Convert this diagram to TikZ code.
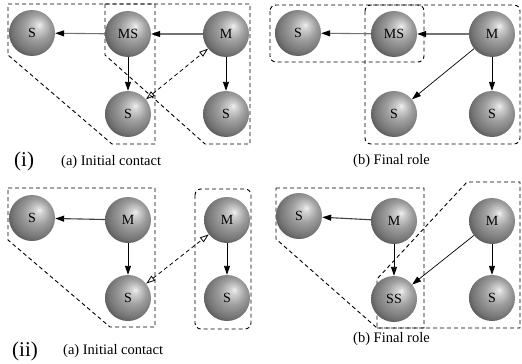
\documentclass[tikz,border=0pt]{standalone}
\usepackage{fontspec}
\setmainfont{Liberation Serif}
\usetikzlibrary{arrows.meta}
\definecolor{bA}{RGB}{240,240,240}
\definecolor{bB}{RGB}{210,210,210}
\definecolor{bC}{RGB}{158,158,158}
\definecolor{bD}{RGB}{118,118,118}
\definecolor{bE}{RGB}{70,70,70}
\pgfdeclareradialshading{refball}{\pgfpoint{8bp}{9bp}}{color(0bp)=(bA);color(4bp)=(bB);color(14bp)=(bC);color(25bp)=(bD);color(34bp)=(bE);color(50bp)=(bE)}
\begin{document}
\begin{tikzpicture}[x=1pt,y=-1pt,
 ball/.style={circle, minimum size=46pt, inner sep=0pt, shading=refball, font=\fontsize{14}{14}\selectfont},
 grp/.style={dash pattern=on 4pt off 3pt, line width=0.9pt, black},
 rgrp/.style={grp, rounded corners=6pt},
 garr/.style={-{Triangle[length=9pt,width=6pt,color=black]}, line width=1.1pt, black!55},
 barr/.style={-{Triangle[length=9pt,width=6pt]}, line width=0.9pt, black},
 darr/.style={{Triangle[open,length=9pt,width=6pt]}-{Triangle[open,length=9pt,width=6pt]}, dash pattern=on 4pt off 3pt, line width=0.8pt},
 lab/.style={font=\fontsize{14.5}{14.5}\selectfont, anchor=base west, inner sep=0pt},
 big/.style={font=\fontsize{21}{21}\selectfont, anchor=base west, inner sep=0pt}]
\useasboundingbox (0,0) rectangle (522,364);

% ---------- (i)(a) ----------
\draw[grp] (8,4) -- (155,4) -- (155,144) -- (112,144) -- (8,55) -- cycle;
\draw[grp] (105,4) -- (250,4) -- (250,144) -- (205,144) -- (105,55) -- cycle;
\node[ball] (a1) at (32,33) {S};
\node[ball] (a2) at (128,34) {MS};
\node[ball] (a3) at (226,34) {M};
\node[ball] (a4) at (128,114) {S};
\node[ball] (a5) at (226,114) {S};
\draw[garr] (a2) -- (a1);
\draw[garr] (a3) -- (a2);
\draw[barr] (a2) -- (a4);
\draw[barr] (a3) -- (a5);
\draw[darr] (a4) -- (a3);
\node[big] (li) at (14,166) {(i)};
\node[lab] (la) at (61,165) {(a) Initial contact};

% ---------- (i)(b) ----------
\draw[rgrp] (270,5) rectangle (424,62);
\draw[rgrp] (365,5) rectangle (520,144);
\node[ball] (b1) at (298,33) {S};
\node[ball] (b2) at (394,34) {MS};
\node[ball] (b3) at (492,34) {M};
\node[ball] (b4) at (394,114) {S};
\node[ball] (b5) at (492,114) {S};
\draw[garr] (b2) -- (b1);
\draw[garr] (b3) -- (b2);
\draw[barr, line width=0.7pt] (b3) -- (b4);
\draw[barr] (b3) -- (b5);
\node[lab] (lb) at (353,164) {(b) Final role};

% ---------- (ii)(a) ----------
\draw[grp] (8,188) -- (155,188) -- (155,327) -- (110,327) -- (8,240) -- cycle;
\draw[rgrp] (195,189) rectangle (251,329);
\node[ball] (c1) at (32,218) {S};
\node[ball] (c2) at (128,220) {M};
\node[ball] (c3) at (128,298) {S};
\node[ball] (c4) at (227,220) {M};
\node[ball] (c5) at (227,298) {S};
\draw[garr, black!75] (c2) -- (c1);
\draw[barr] (c2) -- (c3);
\draw[barr] (c4) -- (c5);
\draw[darr] (c3) -- (c4);
\node[big] (lii) at (12,356) {(ii)};
\node[lab] (lc) at (63,354) {(a) Initial contact};

% ---------- (ii)(b) ----------
\draw[grp] (276,188) -- (424,188) -- (424,328) -- (377,328) -- (276,239) -- cycle;
\draw[grp] (377,328) -- (520,328) -- (520,182) -- (467,182) -- (377,279) -- cycle;
\node[ball] (d1) at (299,216) {S};
\node[ball] (d2) at (394,221) {M};
\node[ball] (d3) at (394,299) {SS};
\node[ball] (d4) at (492,221) {M};
\node[ball] (d5) at (492,298) {S};
\draw[garr, black!75] (d2) -- (d1);
\draw[barr] (d2) -- (d3);
\draw[barr, line width=0.7pt] (d4) -- (d3);
\draw[barr] (d4) -- (d5);
\node[lab] (ld) at (353,342) {(b) Final role};
\end{tikzpicture}
\end{document}
